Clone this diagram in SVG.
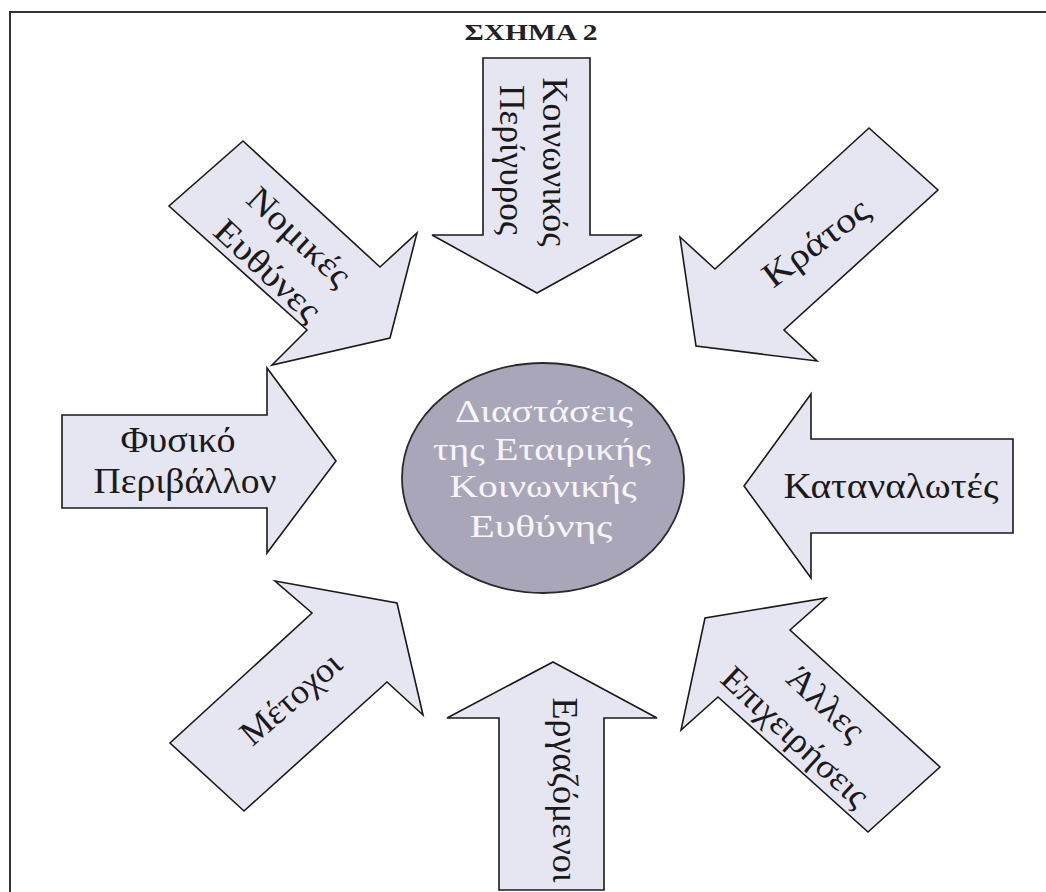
<svg xmlns="http://www.w3.org/2000/svg" width="1046" height="892" viewBox="0 0 1046 892">
  <style>
    .arrow { fill: #e6e5f2; stroke: #1a1a1a; stroke-width: 1.6; stroke-linejoin: miter; }
    .lbl { font-family: "Liberation Serif", "DejaVu Serif", serif; font-size: 35px; fill: #1a1a1a; text-anchor: middle; }
    .core { fill: #a9a6ba; stroke: #2a2a2a; stroke-width: 1.8; }
    .coretxt { font-family: "Liberation Serif", "DejaVu Serif", serif; font-size: 31px; fill: #f6f6f8; text-anchor: middle; }
    .title { font-family: "Liberation Serif", "DejaVu Serif", serif; font-size: 23px; font-weight: bold; fill: #222; text-anchor: middle; }
  </style>

  <rect x="0" y="0" width="1046" height="892" fill="#ffffff"/>
  <!-- page frame (open to the right and bottom) -->
  <rect x="10" y="12" width="1060" height="900" fill="none" stroke="#333" stroke-width="2"/>

  <text class="title" x="531" y="40" textLength="133" lengthAdjust="spacingAndGlyphs">ΣΧΗΜΑ 2</text>

  <g id="connectors">
    <!-- the arrows are the connectors: each points into the central node -->
  </g>

  <g id="koinonikos-perigyros">
    <polygon class="arrow" points="483,58 590,58 590,235 642,235 537,293 432,235 483,235"/>
    <g transform="translate(543,162) rotate(90)">
      <text class="lbl" x="0" y="0" textLength="169" lengthAdjust="spacingAndGlyphs">Κοινωνικός</text>
      <text class="lbl" x="-2" y="43" textLength="150" lengthAdjust="spacingAndGlyphs">Περίγυρος</text>
    </g>
  </g>

  <g id="nomikes-evthynes">
    <polygon class="arrow" points="243,141 380,267 417,233 390,338 272,365 307,330 169,206"/>
    <g transform="translate(283,254) rotate(43)">
      <text class="lbl" x="0" y="-12" textLength="128" lengthAdjust="spacingAndGlyphs">Νομικές</text>
      <text class="lbl" x="0" y="34" textLength="132" lengthAdjust="spacingAndGlyphs">Ευθύνες</text>
    </g>
  </g>

  <g id="kratos">
    <polygon class="arrow" points="869,128 938,190 784,330 817,361 696,346 680,237 715,269"/>
    <g transform="translate(816,243) rotate(-37)">
      <text class="lbl" x="0" y="11" textLength="124" lengthAdjust="spacingAndGlyphs">Κράτος</text>
    </g>
  </g>

  <g id="fysiko-perivallon">
    <polygon class="arrow" points="62,415 267,415 267,368 336,461 267,553 267,508 62,508"/>
    <text class="lbl" x="178" y="452" textLength="115" lengthAdjust="spacingAndGlyphs">Φυσικό</text>
    <text class="lbl" x="185" y="493" textLength="183" lengthAdjust="spacingAndGlyphs">Περιβάλλον</text>
  </g>

  <g id="katanalotes">
    <polygon class="arrow" points="744,486 811,394 811,439 1013,439 1013,533 811,533 811,578"/>
    <text class="lbl" x="891" y="498" textLength="215" lengthAdjust="spacingAndGlyphs">Καταναλωτές</text>
  </g>

  <g id="metochoi">
    <polygon class="arrow" points="244,811 170,743 312,613 275,581 397,603 423,715 387,682"/>
    <g transform="translate(291,699) rotate(-41)">
      <text class="lbl" x="0" y="11" textLength="122" lengthAdjust="spacingAndGlyphs">Μέτοχοι</text>
    </g>
  </g>

  <g id="ergazomenoi">
    <polygon class="arrow" points="553,662 657,718 604,718 604,890 499,890 499,718 447,718"/>
    <g transform="translate(553,790) rotate(90)">
      <text class="lbl" x="0" y="0" textLength="185" lengthAdjust="spacingAndGlyphs">Εργαζόμενοι</text>
    </g>
  </g>

  <g id="alles-epicheiriseis">
    <polygon class="arrow" points="826,598 790,630 940,767 868,832 718,697 681,730 705,618"/>
    <g transform="translate(810,721) rotate(43)">
      <text class="lbl" x="0" y="-12" textLength="92" lengthAdjust="spacingAndGlyphs">Άλλες</text>
      <text class="lbl" x="0" y="33" textLength="188" lengthAdjust="spacingAndGlyphs">Επιχειρήσεις</text>
    </g>
  </g>

  <g id="diastaseis-eke">
    <ellipse class="core" cx="543" cy="478" rx="141" ry="115"/>
    <text class="coretxt" x="544" y="422" textLength="178" lengthAdjust="spacingAndGlyphs">Διαστάσεις</text>
    <text class="coretxt" x="542" y="460" textLength="218" lengthAdjust="spacingAndGlyphs">της Εταιρικής</text>
    <text class="coretxt" x="543" y="497" textLength="187" lengthAdjust="spacingAndGlyphs">Κοινωνικής</text>
    <text class="coretxt" x="541" y="537" textLength="143" lengthAdjust="spacingAndGlyphs">Ευθύνης</text>
  </g>
</svg>
